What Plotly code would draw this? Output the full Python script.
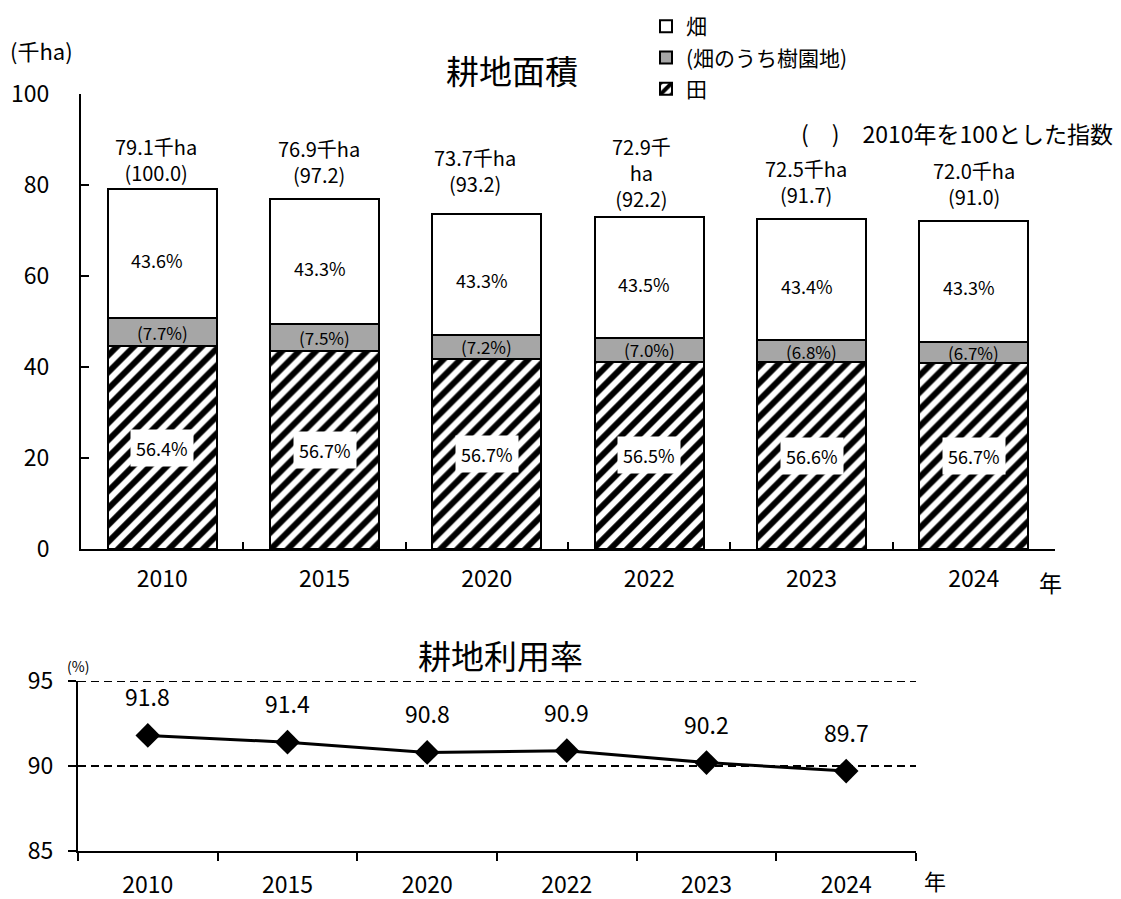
import plotly.graph_objects as go

# ---------------- data ----------------
years = ["2010", "2015", "2020", "2022", "2023", "2024"]
total_area = [79.1, 76.9, 73.7, 72.9, 72.5, 72.0]          # 千ha
index_2010 = ["100.0", "97.2", "93.2", "92.2", "91.7", "91.0"]
paddy_area = [44.6, 43.6, 41.8, 41.2, 41.0, 40.8]          # 田
upland_area = [34.5, 33.3, 31.9, 31.7, 31.5, 31.2]         # 畑
orchard_area = [6.1, 5.8, 5.3, 5.1, 4.9, 4.8]              # 畑のうち樹園地
paddy_pct = ["56.4", "56.7", "56.7", "56.5", "56.6", "56.7"]
upland_pct = ["43.6", "43.3", "43.3", "43.5", "43.4", "43.3"]
orchard_pct = ["7.7", "7.5", "7.2", "7.0", "6.8", "6.7"]
util_rate = [91.8, 91.4, 90.8, 90.9, 90.2, 89.7]           # 耕地利用率 (%)

# label styling (not data)
total_label_wrap = [False, False, False, True, False, False]
total_label_yshift = [0, 8, 14, 2, 8, 8]
total_label_xshift = [-6, -6, -12, -8, -6, 0]

# page is rendered with the default 8px body margin -> compensate
OFF = 8
W, H = 1121 - OFF, 899 - OFF
FONT = "Noto Sans CJK JP"


def fx(x):
    return (x - OFF) / W


def fy(y):
    return 1 - (y - OFF) / H


upland_other = [u - o for u, o in zip(upland_area, orchard_area)]

fig = go.Figure()
fig.add_trace(go.Bar(
    x=years, y=paddy_area, name="田", legendrank=3, legendgroup="c",
    marker=dict(color="white", line=dict(color="black", width=2),
                pattern=dict(shape="/", fgcolor="black", bgcolor="white",
                             fgopacity=1, size=12, solidity=0.5)),
    xaxis="x", yaxis="y"))
fig.add_trace(go.Bar(
    x=years, y=orchard_area, name="(畑のうち樹園地)", legendrank=2, legendgroup="b",
    marker=dict(color="#a6a6a6", line=dict(color="black", width=2)),
    xaxis="x", yaxis="y"))
fig.add_trace(go.Bar(
    x=years, y=upland_other, name="畑", legendrank=1, legendgroup="a",
    marker=dict(color="white", line=dict(color="black", width=2)),
    xaxis="x", yaxis="y"))

fig.add_trace(go.Scatter(
    x=years, y=util_rate, mode="lines+markers", showlegend=False,
    line=dict(color="black", width=3),
    marker=dict(symbol="diamond", size=19, color="black"),
    xaxis="x2", yaxis="y2"))

ann = []
for i, yr in enumerate(years):
    if total_label_wrap[i]:
        t = f"{total_area[i]}千<br>ha<br>({index_2010[i]})"
    else:
        t = f"{total_area[i]}千ha<br>({index_2010[i]})"
    ann.append(dict(x=i, y=total_area[i], xref="x", yref="y", text=t,
                    showarrow=False, yanchor="bottom",
                    yshift=total_label_yshift[i], xshift=total_label_xshift[i],
                    font=dict(size=20, family=FONT, color="black")))
    ann.append(dict(x=i, y=paddy_area[i] + upland_area[i] - upland_other[i] / 2,
                    xref="x", yref="y", text=f"{upland_pct[i]}%", showarrow=False,
                    yshift=-6, xshift=-5, font=dict(size=18, family=FONT, color="black")))
    ann.append(dict(x=i, y=paddy_area[i] + orchard_area[i] / 2, xref="x", yref="y",
                    text=f"({orchard_pct[i]}%)", showarrow=False,
                    font=dict(size=17, family=FONT, color="black")))
    ann.append(dict(x=i, y=paddy_area[i] / 2, xref="x", yref="y",
                    text=f"{paddy_pct[i]}%", showarrow=False, bgcolor="white",
                    borderpad=5, font=dict(size=18, family=FONT, color="black")))
    ann.append(dict(x=i, y=util_rate[i], xref="x2", yref="y2", text=f"{util_rate[i]}",
                    showarrow=False, yanchor="bottom", yshift=20,
                    font=dict(size=23, family=FONT, color="black")))

for text, (x, y), size, xa in [
    ("(千ha)", (8, 50), 22, "left"),
    ("耕地面積", (512, 70), 33, "center"),
    ("(　)　2010年を100とした指数", (1115, 133), 23, "right"),
    ("年", (1050, 582), 23, "center"),
    ("耕地利用率", (500, 655), 33, "center"),
    ("(%)", (78, 666), 14, "center"),
    ("年", (935, 880), 22, "center"),
]:
    ann.append(dict(x=fx(x), y=fy(y), xref="paper", yref="paper", text=text,
                    showarrow=False, xanchor=xa, yanchor="middle",
                    font=dict(size=size, family=FONT, color="black")))

# dashed reference lines of the utilisation chart
shapes = []
for lvl in [90, 95]:
    shapes.append(dict(type="line", xref="x2 domain", yref="y2", x0=0, x1=1,
                       y0=lvl, y1=lvl,
                       line=dict(color="black", width=2, dash="8px,5px")))

axis_common = dict(showline=True, linecolor="black", linewidth=2, tickwidth=2,
                   tickcolor="black", showgrid=False, zeroline=False,
                   automargin=False, tickfont=dict(size=23, family=FONT))

fig.update_layout(
    width=W, height=H, autosize=False,
    margin=dict(l=0, r=0, t=0, b=0, pad=0, autoexpand=False),
    paper_bgcolor="white", plot_bgcolor="white",
    barmode="stack", bargap=0.33,
    font=dict(family=FONT, color="black"),
    annotations=ann, shapes=shapes,
    legend=dict(x=fx(646), y=fy(6), xanchor="left", yanchor="top",
                tracegroupgap=1, font=dict(size=21, family=FONT),
                bgcolor="rgba(0,0,0,0)"),
    xaxis=dict(domain=[fx(81), fx(1055)], anchor="y", type="category",
               categoryorder="array", categoryarray=years, range=[-0.5, 5.5],
               ticks="inside", tickson="boundaries", ticklen=7, tickangle=0,
               ticklabelstandoff=8, **axis_common),
    yaxis=dict(domain=[fy(549), fy(94)], anchor="x", range=[0, 100],
               tickvals=[0, 20, 40, 60, 80, 100], ticks="inside", ticklen=8,
               ticklabelstandoff=25, **axis_common),
    xaxis2=dict(domain=[fx(78), fx(916)], anchor="y2", type="category",
                categoryorder="array", categoryarray=years, range=[-0.5, 5.5],
                ticks="outside", tickson="boundaries", ticklen=8, tickangle=0,
                ticklabelstandoff=12, **axis_common),
    yaxis2=dict(domain=[fy(851), fy(681)], anchor="x2", range=[85, 95],
                tickvals=[85, 90, 95], ticks="outside", ticklen=8,
                ticklabelstandoff=10, **axis_common),
)

fig.write_html("out.html")
